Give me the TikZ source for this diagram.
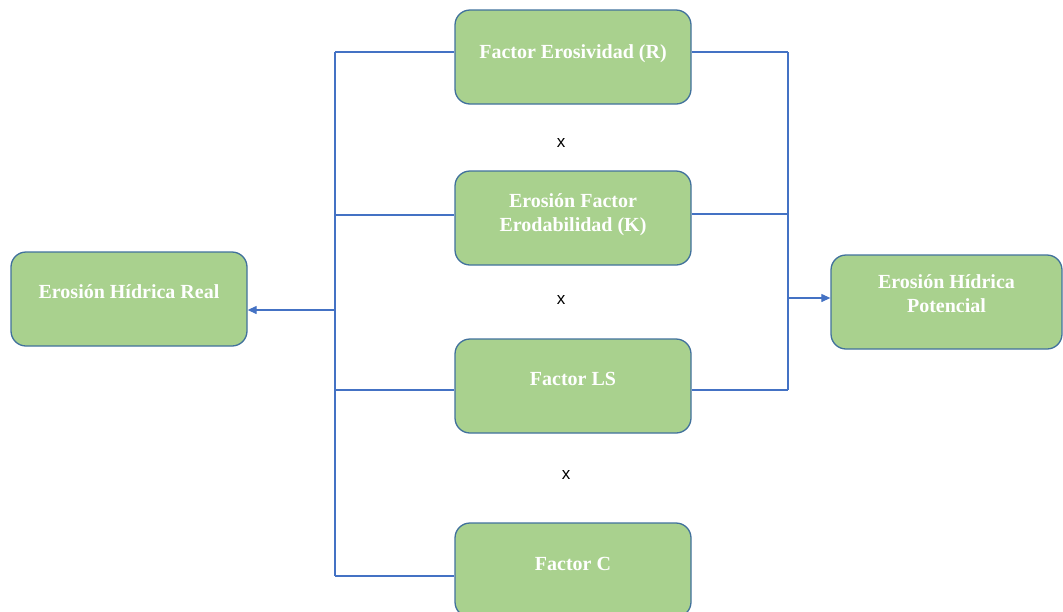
\documentclass[tikz,border=0pt]{standalone}
\usepackage{fontspec}
\setmainfont{Liberation Serif}
\newfontfamily\xfont{Liberation Sans}
\usetikzlibrary{arrows.meta}
\definecolor{boxfill}{HTML}{A9D18E}
\definecolor{boxline}{HTML}{41719C}
\definecolor{conn}{HTML}{4472C4}
\begin{document}
\begin{tikzpicture}[x=1pt,y=-1pt,
  box/.style={draw=boxline, line width=1.3pt, fill=boxfill, rounded corners=15pt, minimum width=236pt, minimum height=94pt, inner sep=0pt},
  boxtext/.style={text=white, font=\bfseries\fontsize{20}{24}\selectfont, align=center, inner sep=0pt},
  conn/.style={draw=conn, line width=1.2pt},
  arr/.style={conn, -{Triangle[length=9pt,width=8pt]}},
  times/.style={font=\xfont\fontsize{17}{19}\selectfont, inner sep=0pt}]
\useasboundingbox (0,0) rectangle (1063,611);
\clip (0,0) rectangle (1063,611);
% boxes
\node[box] (real) at (129,299) {};
\node[box] (r) at (573,57) {};
\node[box] (k) at (573,218) {};
\node[box] (ls) at (573,386) {};
\node[box] (c) at (573,570) {};
\node[box, minimum width=231pt] (pot) at (946.5,302) {};
% texts
\node[boxtext] (realt) at ([yshift=7pt]real.center) {Erosión Hídrica Real};
\node[boxtext] (rt) at ([yshift=3pt]r.center) {Factor Erosividad (R)};
\node[boxtext] (kt) at ([yshift=3pt]k.center) {Erosión Factor\\Erodabilidad (K)};
\node[boxtext] (lst) at ([yshift=7pt]ls.center) {Factor LS};
\node[boxtext] (ct) at ([yshift=6pt]c.center) {Factor C};
\node[boxtext] (pott) at ([yshift=8pt]pot.center) {Erosión Hídrica\\Potencial};
% multiplication signs
\node[times] (x1) at (561,143) {x};
\node[times] (x2) at (561,300) {x};
\node[times] (x3) at (566,475) {x};
% connector coordinates
\coordinate (lt) at (335,52);
\coordinate (lb) at (335,576);
\coordinate (la) at (335,310);
\coordinate (rtop) at (788,52);
\coordinate (rbot) at (788,390);
\coordinate (ra) at (788,298);
% left connectors
\draw[conn] (lt) -- (lb);
\draw[conn] (lt) -- (lt -| r.west);
\draw[conn] (335,215) -- (k.west |- 0,215);
\draw[conn] (335,390) -- (ls.west |- 0,390);
\draw[conn] (lb) -- (lb -| c.west);
\draw[arr] (la) -- (la -| real.east);
% right connectors
\draw[conn] (rtop) -- (rbot);
\draw[conn] (r.east |- rtop) -- (rtop);
\draw[conn] (k.east |- 0,214) -- (788,214);
\draw[conn] (ls.east |- rbot) -- (rbot);
\draw[arr] (ra) -- (ra -| pot.west);
\end{tikzpicture}
\end{document}
